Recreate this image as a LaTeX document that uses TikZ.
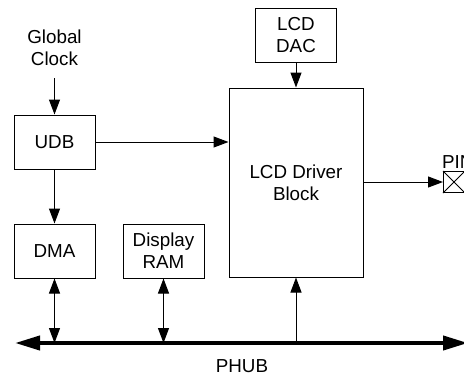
\documentclass[tikz,border=0pt]{standalone}
\usepackage{fontspec}
\setmainfont{Liberation Sans}
\usetikzlibrary{positioning,arrows.meta}

\begin{document}
\begin{tikzpicture}[
  x=1pt, y=-1pt,
  block/.style={draw, line width=1pt, align=center, inner sep=0pt,
    minimum width=81pt, minimum height=54pt,
    font=\fontsize{18.8}{22}\selectfont},
  lbl/.style={align=center, font=\fontsize{18.8}{22}\selectfont},
  arrow/.style={-{Triangle[length=15pt,width=11pt]}, line width=1pt},
  dblarrow/.style={{Triangle[length=15pt,width=11pt]}-{Triangle[length=15pt,width=11pt]},
    line width=1pt},
  bus/.style={{Triangle[length=25pt,width=14pt]}-{Triangle[length=25pt,width=14pt]},
    line width=4pt},
  node distance=27pt and 27pt
]
\useasboundingbox (0,0) rectangle (464,376);
\node[lbl] (clock) at (54.5,48) {Global\\Clock};
\node[block] (udb) at (54.5,142) {UDB};
\node[block, below=54pt of udb] (dma) {DMA};
\node[block, right=of dma] (ram) {Display\\RAM};
\node[block, minimum width=134pt, minimum height=189pt] (driver) at (296,182.5)
  {LCD Driver\\Block};
\node[block] (dac) at (296,35) {LCD\\DAC};
\node[draw, line width=1pt, minimum size=21pt, inner sep=0pt] (pin) at (454,182) {};
\draw[line width=0.8pt] (pin.north west) -- (pin.south east)
  (pin.south west) -- (pin.north east);
\node[lbl, anchor=south west, inner sep=0pt] (pinlabel) at (442,169) {PIN};
\coordinate (busl) at (15,343);
\coordinate (busr) at (468,343);
\node[lbl] (phub) at (242,366) {PHUB};
\draw[bus] (busl) -- (busr);
\draw[arrow] (clock.south) ++(0,9) -- (udb);
\draw[arrow] (udb) -- (dma);
\draw[arrow] (udb) -- (driver.west |- udb);
\draw[arrow] (dac) -- (driver);
\draw[arrow] (driver.east |- pin) -- (pin);
\foreach \n in {dma, ram}
  \draw[dblarrow] (\n) -- (\n |- busl);
\draw[arrow] (driver |- busl) -- (driver);
\end{tikzpicture}
\end{document}
